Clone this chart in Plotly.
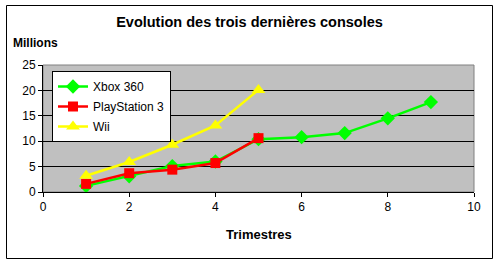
import plotly.graph_objects as go

# Data
xbox_x = [1, 2, 3, 4, 5, 6, 7, 8, 9]
xbox_y = [1.2, 3.1, 5.1, 6.0, 10.4, 10.8, 11.6, 14.5, 17.7]
ps3_x = [1, 2, 3, 4, 5]
ps3_y = [1.6, 3.7, 4.4, 5.7, 10.6]
wii_x = [1, 2, 3, 4, 5]
wii_y = [3.2, 5.9, 9.3, 13.1, 20.1]

font_family = "Liberation Sans, Arial, sans-serif"

fig = go.Figure()
fig.add_trace(go.Scatter(x=xbox_x, y=xbox_y, name="Xbox 360", mode="lines+markers",
                         legendgroup="a",
                         line=dict(color="#00FF00", width=2.5),
                         marker=dict(symbol="diamond", size=11, color="#00FF00")))
fig.add_trace(go.Scatter(x=ps3_x, y=ps3_y, name="PlayStation 3", mode="lines+markers",
                         legendgroup="b",
                         line=dict(color="#FF0000", width=2.5),
                         marker=dict(symbol="square", size=10, color="#FF0000")))
fig.add_trace(go.Scatter(x=wii_x, y=wii_y, name="Wii", mode="lines+markers",
                         legendgroup="c",
                         line=dict(color="#FFFF00", width=2.5),
                         marker=dict(symbol="triangle-up", size=12, color="#FFFF00")))

L, R, T, B = 43, 25, 65, 73
W, H = 499, 265
pw = W - L - R
ph = H - T - B

def px_x(p):
    return (p - L) / pw

def px_y(p):
    return (H - B - p) / ph

fig.update_layout(
    width=W, height=H,
    margin=dict(l=L, r=R, t=T, b=B),
    paper_bgcolor="white",
    plot_bgcolor="#C0C0C0",
    font=dict(family=font_family, size=12, color="black"),
    title=dict(text="<b>Evolution des trois dernières consoles</b>",
               x=0.5, xanchor="center", y=1 - 22 / H, yanchor="middle",
               font=dict(size=14.5, family=font_family, color="black")),
    showlegend=True,
    legend=dict(x=px_x(52), y=px_y(71), xanchor="left", yanchor="top",
                bgcolor="white", bordercolor="black", borderwidth=1,
                tracegroupgap=1,
                font=dict(size=12, family=font_family)),
    xaxis=dict(range=[0, 10], tickvals=[0, 2, 4, 6, 8, 10], showgrid=False,
               zeroline=False, showline=True, linecolor="black", linewidth=1,
               ticks="outside", ticklen=4, tickcolor="black",
               tickfont=dict(size=12)),
    yaxis=dict(range=[0, 25], tickvals=[0, 5, 10, 15, 20, 25], showgrid=True,
               gridcolor="black", gridwidth=1, zeroline=False,
               showline=True, linecolor="black", linewidth=1,
               ticks="outside", ticklen=4, tickcolor="black",
               tickfont=dict(size=12)),
    shapes=[
        dict(type="rect", xref="paper", yref="paper", x0=0, x1=1, y0=0, y1=1,
             line=dict(color="#808080", width=1), layer="below"),
        dict(type="rect", xref="paper", yref="paper",
             x0=px_x(6.5), x1=px_x(492.5), y0=px_y(258.5), y1=px_y(5.5),
             line=dict(color="black", width=1), layer="below"),
    ],
    annotations=[
        dict(text="<b>Millions</b>", xref="paper", yref="paper",
             x=px_x(11), y=px_y(43), xanchor="left", yanchor="middle",
             showarrow=False, font=dict(size=12, family=font_family)),
        dict(text="<b>Trimestres</b>", xref="paper", yref="paper",
             x=0.5, y=px_y(234), xanchor="center", yanchor="middle",
             showarrow=False, font=dict(size=13, family=font_family)),
    ],
)

fig.write_html("out.html")
